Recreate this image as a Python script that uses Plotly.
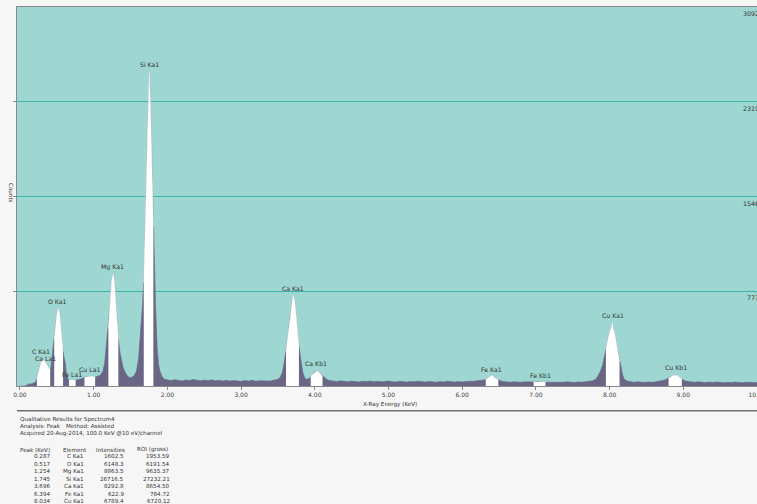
import plotly.graph_objects as go

# ---------------- data ----------------
energy_kev = [
    0.00, 0.06, 0.10, 0.12, 0.15, 0.18, 0.21,
    0.23, 0.25, 0.27, 0.29, 0.31, 0.33, 0.35, 0.37, 0.39, 0.41,
    0.42, 0.43, 0.44, 0.45,
    0.465, 0.48, 0.50, 0.52, 0.54, 0.555, 0.57, 0.585,
    0.60, 0.615, 0.63, 0.65,
    0.665, 0.70, 0.755,
    0.78, 0.81, 0.845,
    0.875, 0.91, 0.945, 0.98, 1.02,
    1.05, 1.08, 1.10, 1.125, 1.15, 1.175,
    1.20, 1.22, 1.245, 1.265, 1.285, 1.31, 1.335,
    1.355, 1.38, 1.40, 1.43, 1.46, 1.49, 1.52, 1.55, 1.58, 1.61, 1.635, 1.66,
    1.68, 1.70, 1.72, 1.74, 1.753, 1.77, 1.79, 1.81,
    1.825, 1.84, 1.86, 1.88, 1.90, 1.93, 1.96,
    2.00, 2.05, 2.10, 2.15, 2.20, 2.25, 2.30, 2.35, 2.40, 2.45, 2.50, 2.55, 2.60,
    2.65, 2.70, 2.75, 2.80, 2.85, 2.90, 2.95, 3.00, 3.05, 3.10, 3.15, 3.20, 3.25,
    3.30, 3.35, 3.40, 3.45, 3.50, 3.53, 3.56, 3.585,
    3.61, 3.635, 3.66, 3.685, 3.705, 3.73, 3.755, 3.785,
    3.81, 3.835, 3.86, 3.89, 3.92,
    3.945, 3.97, 4.00, 4.03, 4.06, 4.085, 4.105,
    4.13, 4.16, 4.20, 4.25, 4.30, 4.35, 4.40, 4.45, 4.50, 4.55, 4.60, 4.65, 4.70,
    4.75, 4.80, 4.85, 4.90, 4.95, 5.00, 5.05, 5.10, 5.15, 5.20, 5.25, 5.30, 5.35,
    5.40, 5.45, 5.50, 5.55, 5.60, 5.65, 5.70, 5.75, 5.80, 5.85, 5.90, 5.95, 6.00,
    6.05, 6.10, 6.15, 6.20, 6.25, 6.29,
    6.32, 6.35, 6.38, 6.40, 6.42, 6.45, 6.49,
    6.52, 6.55, 6.60, 6.65, 6.70, 6.75, 6.80, 6.85, 6.90, 6.94,
    6.97, 7.01, 7.05, 7.09, 7.13,
    7.17, 7.22, 7.27, 7.32, 7.37, 7.42, 7.47, 7.52, 7.57, 7.62, 7.67, 7.72, 7.77,
    7.81, 7.84, 7.875, 7.905, 7.93,
    7.95, 7.975, 8.00, 8.025, 8.037, 8.05, 8.07, 8.095, 8.12, 8.135,
    8.155, 8.175, 8.20, 8.24, 8.28, 8.33, 8.38, 8.43, 8.48, 8.53, 8.58, 8.63,
    8.68, 8.72, 8.76,
    8.80, 8.83, 8.86, 8.89, 8.92, 8.95, 8.98,
    9.01, 9.05, 9.10, 9.15, 9.20, 9.25, 9.30, 9.35, 9.40, 9.45, 9.50, 9.55, 9.60,
    9.65, 9.70, 9.75, 9.80, 9.85, 9.90, 9.95, 10.00,
]
counts = [
    0, 0, 8, 18, 15, 22, 30,
    60, 110, 165, 200, 216, 208, 190, 168, 145, 130,
    150, 210, 280, 300,
    380, 480, 585, 637, 590, 480, 370, 285,
    230, 190, 100, 55,
    48, 50, 46,
    52, 56, 60,
    72, 76, 74, 78, 72,
    80, 84, 95, 120, 190, 340,
    470, 650, 870, 918, 830, 600, 390,
    280, 200, 150, 110, 80, 68, 72, 85, 120, 230, 420, 640,
    850, 1350, 2000, 2450, 2573, 2330, 1800, 1300,
    1050, 650, 330, 180, 120, 75, 55,
    50, 44, 52, 47, 41, 49, 45, 53, 46, 42, 48, 44, 50,
    43, 47, 41, 46, 40, 45, 42, 38, 44, 40, 46, 39, 43,
    41, 45, 40, 48, 55, 70, 110, 190,
    280, 400, 540, 680, 745, 690, 520, 330,
    220, 120, 70, 55, 60,
    80, 95, 115, 125, 110, 95, 80,
    70, 55, 45, 40, 36, 42, 38, 35, 40, 37, 33, 39, 36,
    41, 35, 38, 34, 37, 40, 35, 33, 38, 36, 32, 37, 34,
    39, 35, 33, 37, 34, 31, 36, 33, 38, 34, 32, 36, 33,
    37, 35, 38, 42, 45, 48,
    52, 65, 82, 88, 80, 62, 50,
    42, 36, 34, 31, 35, 32, 30, 34, 31, 33,
    32, 34, 36, 33, 31,
    30, 33, 29, 32, 30, 34, 31, 29, 33, 30, 35, 38, 42,
    55, 80, 120, 170, 240,
    300, 385, 445, 480, 520, 470, 430, 340, 250, 205,
    160, 95, 55, 40, 33, 30, 34, 31, 29, 33, 30, 35,
    38, 45, 52,
    62, 75, 85, 88, 84, 72, 58,
    45, 38, 33, 30, 34, 31, 28, 32, 29, 33, 30, 27, 31,
    28, 32, 29, 26, 30, 28, 31, 28,
]

# ROI windows (keV) drawn white under the curve
roi_windows = [
    (0.225, 0.415), (0.46, 0.59), (0.66, 0.76), (0.87, 1.025),
    (1.195, 1.34), (1.675, 1.815), (3.60, 3.79), (3.94, 4.11),
    (6.315, 6.495), (6.96, 7.14), (7.945, 8.14), (8.795, 8.985),
]

peak_labels = ["C Ka1", "Ca La1", "O Ka1", "Fe La1", "Cu La1", "Mg Ka1", "Si Ka1",
               "Ca Ka1", "Ca Kb1", "Fe Ka1", "Fe Kb1", "Cu Ka1", "Cu Kb1"]
peak_label_kev = [0.29, 0.35, 0.51, 0.70, 0.95, 1.26, 1.763,
                  3.71, 4.02, 6.40, 7.065, 8.04, 8.895]
peak_label_counts = [279, 224, 690, 96, 132, 974, 2620,
                     797, 183, 134, 86, 574, 148]

grid_counts = [773, 1546, 2319]
right_labels = [3092, 2319, 1546, 773]
x_tick_vals = [0, 1, 2, 3, 4, 5, 6, 7, 8, 9, 10]
x_tick_text = ["0.00", "1.00", "2.00", "3.00", "4.00", "5.00", "6.00",
               "7.00", "8.00", "9.00", "10.00"]

header_lines = ["Qualitative Results for Spectrum4",
                "Acquired 20-Aug-2014, 100.0 KeV @10 eV/channel"]
analysis_text = "Analysis: Peak"
method_text = "Method: Assisted"
table_columns = ["Peak (KeV)", "Element", "Intensities", "ROI (gross)"]
table_peak_kev = [0.287, 0.517, 1.254, 1.745, 3.696, 6.394, 8.034]
table_element = ["C Ka1", "O Ka1", "Mg Ka1", "Si Ka1", "Ca Ka1", "Fe Ka1", "Cu Ka1"]
table_intensity = [1602.5, 6148.3, 8863.5, 26716.5, 8292.8, 622.9, 6789.4]
table_roi = [1953.59, 6191.54, 9635.37, 27232.21, 8654.50, 784.72, 6720.12]

# ---------------- styling / layout ----------------
W, H = 757, 504
ML, MR, MT, MB = 17, 0, 7, 118
PW, PH = W - ML - MR, H - MT - MB

PURPLE = "#6a6786"
TEAL_BG = "#9ed6d1"
GRID = "#3db5ab"
TXT = "#333333"
FONT = "DejaVu Sans"


def pxx(px):
    return (px - ML) / PW


def pxy(py):
    return (H - MB - py) / PH


fig = go.Figure()
fig.add_trace(go.Scatter(
    x=energy_kev, y=counts, mode="lines", fill="tozeroy",
    fillcolor=PURPLE, line=dict(color=PURPLE, width=0.6),
    hoverinfo="skip", showlegend=False))

for lo, hi in roi_windows:
    xs = [e for e in energy_kev if lo <= e <= hi]
    ys = [c for e, c in zip(energy_kev, counts) if lo <= e <= hi]
    fig.add_trace(go.Scatter(
        x=xs, y=ys, mode="lines", fill="tozeroy", fillcolor="white",
        line=dict(color="white", width=0.6), hoverinfo="skip", showlegend=False))

ann = []
for t, e, c in zip(peak_labels, peak_label_kev, peak_label_counts):
    ann.append(dict(x=e, y=c, xref="x", yref="y", text=t, showarrow=False,
                    xanchor="center", yanchor="middle",
                    font=dict(family=FONT, size=6.2, color=TXT)))

for v in right_labels:
    ann.append(dict(x=pxx(761), y=v, xref="paper", yref="y", text=str(v),
                    xanchor="right", yanchor="top", yshift=-1, showarrow=False,
                    font=dict(family=FONT, size=6.3, color=TXT)))

small = dict(family=FONT, size=5.6, color=TXT)


def text_at(px, py, txt, xanchor="left", **kw):
    ann.append(dict(x=pxx(px), y=pxy(py), xref="paper", yref="paper",
                    xanchor=xanchor, yanchor="middle", text=txt,
                    showarrow=False, font=small, **kw))


text_at(390, 404.5, "X-Ray Energy (KeV)", xanchor="center")
text_at(11, 193, "Counts", xanchor="center", textangle=90)

text_at(18, 419.5, header_lines[0])
text_at(18, 426.5, analysis_text)
text_at(64, 426.5, method_text)
text_at(18, 433.5, header_lines[1])

col_left = [18, 61, 94, 135]
for t, xl in zip(table_columns, col_left):
    text_at(xl, 449.5, t)

col_right = [52, 86, 126, 172]
for i in range(len(table_peak_kev)):
    yy = 456.5 + 7.4 * i
    vals = [f"{table_peak_kev[i]:.3f}", table_element[i],
            f"{table_intensity[i]:.1f}", f"{table_roi[i]:.2f}"]
    for v, xr in zip(vals, col_right):
        text_at(xr, yy, v, xanchor="right")

shapes = [dict(type="line", xref="paper", yref="paper",
               x0=pxx(17), x1=pxx(757), y0=pxy(410.7), y1=pxy(410.7),
               line=dict(color="#6f6f6f", width=1.5))]

fig.update_layout(
    width=W, height=H,
    margin=dict(l=ML, r=MR, t=MT, b=MB, pad=0, autoexpand=False),
    paper_bgcolor="#f6f6f6", plot_bgcolor=TEAL_BG,
    showlegend=False,
    xaxis=dict(range=[-0.04, 10.0], tickvals=x_tick_vals, ticktext=x_tick_text,
               showgrid=False, zeroline=False, showline=True, linecolor="#8a8a8a",
               linewidth=1, mirror=True, ticks="outside", ticklen=3,
               ticklabeloverflow="allow", automargin=False,
               tickcolor="#8a8a8a", tickfont=dict(family=FONT, size=6, color="#444")),
    yaxis=dict(range=[0, 3092], tickvals=grid_counts, showticklabels=False,
               showgrid=True, gridcolor=GRID, gridwidth=1.3, zeroline=False,
               showline=True, linecolor="#8a8a8a", linewidth=1, mirror=True,
               ticks="outside", ticklen=3, tickcolor="#8a8a8a", automargin=False),
    annotations=ann, shapes=shapes,
)

fig.write_html(
    "out.html",
    config={"displayModeBar": False},
    post_script="document.body.style.margin='0';document.body.style.overflow='hidden';",
)
